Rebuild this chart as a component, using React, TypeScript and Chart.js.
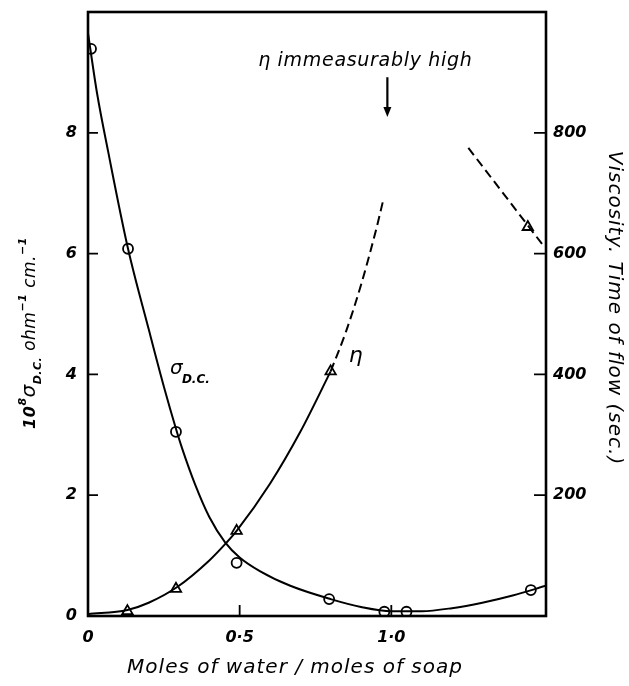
import React, { useEffect, useRef } from 'react';
import { Chart, registerables } from 'chart.js';
Chart.register(...registerables);

const FONT = '"DejaVu Sans", sans-serif';

// Conductivity measurements (open circles), left axis: 10^8 sigma_DC
const sigmaPointX = [0.01, 0.132, 0.29, 0.49, 0.795, 0.977, 1.05, 1.46];
const sigmaPointY = [9.39, 6.08, 3.05, 0.88, 0.28, 0.07, 0.07, 0.43];

// Smooth conductivity curve
const sigmaCurveX = [0, 0.03, 0.066, 0.132, 0.2, 0.25, 0.29, 0.31, 0.353, 0.4, 0.452, 0.5, 0.568, 0.667, 0.8, 0.9, 1.0, 1.1, 1.2, 1.3, 1.4, 1.51];
const sigmaCurveY = [9.65, 8.65, 7.7, 6.08, 4.75, 3.8, 3.1, 2.78, 2.18, 1.64, 1.22, 0.97, 0.74, 0.5, 0.28, 0.15, 0.08, 0.08, 0.13, 0.22, 0.34, 0.5];

// Viscosity measurements (open triangles), right axis: time of flow (sec.)
const etaPointX = [0.13, 0.29, 0.49, 0.8, 1.45];
const etaPointY = [8, 45, 141, 405, 644];

// Viscosity curve: solid part, dashed extrapolation, and dashed high-water branch
const etaSolidX = [0, 0.13, 0.2, 0.294, 0.4, 0.452, 0.49, 0.6, 0.7, 0.8];
const etaSolidY = [3, 10, 22, 48, 92, 119, 141, 219, 305, 405];
const etaDashX = [0.8, 0.85, 0.9, 0.95, 0.975];
const etaDashY = [405, 470, 548, 640, 692];
const etaHighX = [1.254, 1.5];
const etaHighY = [775, 614];

// Tick values
const xTicks = [0, 0.5, 1.0];
const yTicks = [0, 2, 4, 6, 8];
const y2Ticks = [200, 400, 600, 800];

// Annotation anchor (arrow marking immeasurably high viscosity)
const arrowX = 0.987;
const arrowFrom = 892;
const arrowTo = 826;

const pts = (xs: number[], ys: number[]) => xs.map((x, i) => ({ x, y: ys[i] }));

const drawPlugin = {
  id: 'decor',
  afterDraw(chart: any) {
    const { ctx, chartArea } = chart;
    const sx = chart.scales.x;
    const sy = chart.scales.y;
    const sy2 = chart.scales.y2;
    ctx.save();
    ctx.strokeStyle = '#000';
    ctx.fillStyle = '#000';
    // frame
    ctx.lineWidth = 2.6;
    ctx.strokeRect(chartArea.left, chartArea.top, chartArea.right - chartArea.left, chartArea.bottom - chartArea.top);
    // inward ticks
    ctx.lineWidth = 1.8;
    ctx.beginPath();
    yTicks.filter(v => v > 0).forEach(v => {
      const p = sy.getPixelForValue(v);
      ctx.moveTo(chartArea.left, p);
      ctx.lineTo(chartArea.left + 10, p);
    });
    y2Ticks.forEach(v => {
      const p = sy2.getPixelForValue(v);
      ctx.moveTo(chartArea.right, p);
      ctx.lineTo(chartArea.right - 12, p);
    });
    xTicks.filter(v => v > 0).forEach(v => {
      const p = sx.getPixelForValue(v);
      ctx.moveTo(p, chartArea.bottom);
      ctx.lineTo(p, chartArea.bottom - 11);
    });
    ctx.stroke();

    // arrow
    const ax = sx.getPixelForValue(arrowX);
    const a1 = sy2.getPixelForValue(arrowFrom);
    const a2 = sy2.getPixelForValue(arrowTo);
    ctx.lineWidth = 2.2;
    ctx.beginPath();
    ctx.moveTo(ax, a1);
    ctx.lineTo(ax, a2 - 6);
    ctx.stroke();
    ctx.beginPath();
    ctx.moveTo(ax - 4, a2 - 10);
    ctx.lineTo(ax + 4, a2 - 10);
    ctx.lineTo(ax, a2);
    ctx.closePath();
    ctx.fill();

    // annotation text
    ctx.textBaseline = 'alphabetic';
    ctx.textAlign = 'center';
    ctx.font = `italic 19px ${FONT}`;
    (ctx as any).letterSpacing = '0.7px';
    ctx.fillText('η immeasurably high', ax - 22, a1 - 11);

    // sigma label
    (ctx as any).letterSpacing = '0px';
    ctx.textAlign = 'left';
    const sgx = sx.getPixelForValue(0.27);
    const sgy = sy.getPixelForValue(4.0);
    ctx.font = `italic 20px ${FONT}`;
    ctx.fillText('σ', sgx, sgy);
    ctx.font = `italic bold 12px ${FONT}`;
    ctx.fillText('D.C.', sgx + 12, sgy + 9);

    // eta label
    const ex = sx.getPixelForValue(0.86);
    const ey = sy2.getPixelForValue(420);
    ctx.font = `italic 22px ${FONT}`;
    ctx.fillText('η', ex, ey);

    // bottom title
    ctx.textAlign = 'center';
    ctx.font = `italic 20px ${FONT}`;
    (ctx as any).letterSpacing = '1px';
    ctx.fillText('Moles of water / moles of soap', 295, 673);

    // right title
    ctx.save();
    ctx.translate(614, 308);
    ctx.rotate(Math.PI / 2);
    ctx.font = `italic 20px ${FONT}`;
    (ctx as any).letterSpacing = '1px';
    ctx.textBaseline = 'middle';
    ctx.fillText('Viscosity. Time of flow (sec.)', 0, 0);
    ctx.restore();

    // left title with super/subscripts
    ctx.save();
    (ctx as any).letterSpacing = '0.5px';
    ctx.translate(29, 333);
    ctx.rotate(-Math.PI / 2);
    const parts: [string, string, number][] = [
      ['10', `italic bold 16px ${FONT}`, 0],
      ['8', `italic bold 11px ${FONT}`, -9],
      ['σ', `italic 20px ${FONT}`, 0],
      ['D.C.', `italic bold 11px ${FONT}`, 6],
      [' ohm', `italic 17px ${FONT}`, 0],
      ['−1', `italic bold 11px ${FONT}`, -9],
      [' cm.', `italic 17px ${FONT}`, 0],
      ['−1', `italic bold 11px ${FONT}`, -9],
    ];
    let total = 0;
    const widths = parts.map(([t, f]) => {
      ctx.font = f;
      const w = ctx.measureText(t).width;
      total += w;
      return w;
    });
    let cx = -total / 2;
    ctx.textAlign = 'left';
    ctx.textBaseline = 'alphabetic';
    parts.forEach(([t, f, dy], i) => {
      ctx.font = f;
      ctx.fillText(t, cx, 6 + dy);
      cx += widths[i];
    });
    ctx.restore();

    ctx.restore();
  },
};

export default function App() {
  const ref = useRef<HTMLCanvasElement>(null);
  useEffect(() => {
    document.body.style.margin = '0';
    const tickFont = { family: FONT, style: 'italic' as const, weight: 'bold' as const, size: 16 };
    const chart = new Chart(ref.current!, {
      type: 'scatter',
      data: {
        datasets: [
          {
            data: pts(sigmaCurveX, sigmaCurveY),
            yAxisID: 'y',
            showLine: true,
            borderColor: '#000',
            borderWidth: 2,
            pointRadius: 0,
            cubicInterpolationMode: 'monotone',
          },
          {
            data: pts(etaSolidX, etaSolidY),
            yAxisID: 'y2',
            showLine: true,
            borderColor: '#000',
            borderWidth: 2,
            pointRadius: 0,
            cubicInterpolationMode: 'monotone',
          },
          {
            data: pts(etaDashX, etaDashY),
            yAxisID: 'y2',
            showLine: true,
            borderColor: '#000',
            borderWidth: 2,
            borderDash: [9, 5],
            pointRadius: 0,
            cubicInterpolationMode: 'monotone',
          },
          {
            data: pts(etaHighX, etaHighY),
            yAxisID: 'y2',
            showLine: true,
            borderColor: '#000',
            borderWidth: 2,
            borderDash: [9, 5],
            pointRadius: 0,
          },
          {
            data: pts(sigmaPointX, sigmaPointY),
            yAxisID: 'y',
            showLine: false,
            pointStyle: 'circle',
            pointRadius: 5,
            pointBorderWidth: 1.8,
            pointBorderColor: '#000',
            pointBackgroundColor: '#fff',
          },
          {
            data: pts(etaPointX, etaPointY),
            yAxisID: 'y2',
            showLine: false,
            pointStyle: 'triangle',
            pointRadius: 6,
            pointBorderWidth: 1.8,
            pointBorderColor: '#000',
            pointBackgroundColor: '#fff',
          },
        ],
      },
      options: {
        animation: false,
        responsive: true,
        maintainAspectRatio: false,
        layout: { padding: { top: 12, left: 0, right: 0, bottom: 0 } },
        plugins: { legend: { display: false }, tooltip: { enabled: false } },
        scales: {
          x: {
            type: 'linear',
            min: 0,
            max: 1.51,
            grid: { display: false, drawTicks: false },
            border: { display: false },
            afterFit: (s: any) => { s.height = 70; s.paddingLeft = 0; s.paddingRight = 0; },
            afterBuildTicks: (s: any) => { s.ticks = xTicks.map(v => ({ value: v })); },
            ticks: {
              font: tickFont,
              color: '#000',
              padding: 12,
              maxRotation: 0,
              callback: (v: any) => (v === 0 ? '0' : Number(v).toFixed(1).replace('.', '·')),
            },
          },
          y: {
            type: 'linear',
            position: 'left',
            min: 0,
            max: 10,
            grid: { display: false, drawTicks: false },
            border: { display: false },
            afterFit: (s: any) => { s.width = 88; s.paddingTop = 0; s.paddingBottom = 0; },
            afterBuildTicks: (s: any) => { s.ticks = yTicks.map(v => ({ value: v })); },
            ticks: { font: tickFont, color: '#000', padding: 11, callback: (v: any) => String(v) },
          },
          y2: {
            type: 'linear',
            position: 'right',
            min: 0,
            max: 1000,
            grid: { display: false, drawTicks: false },
            border: { display: false },
            afterFit: (s: any) => { s.width = 83; s.paddingTop = 0; s.paddingBottom = 0; },
            afterBuildTicks: (s: any) => { s.ticks = y2Ticks.map(v => ({ value: v })); },
            ticks: { font: tickFont, color: '#000', padding: 7, callback: (v: any) => String(v) },
          },
        },
      },
      plugins: [drawPlugin],
    } as any);
    return () => chart.destroy();
  }, []);
  return (
    <div style={{ position: 'absolute', left: 0, top: 0, width: 629, height: 686, background: '#fff' }}>
      <canvas ref={ref} />
    </div>
  );
}
